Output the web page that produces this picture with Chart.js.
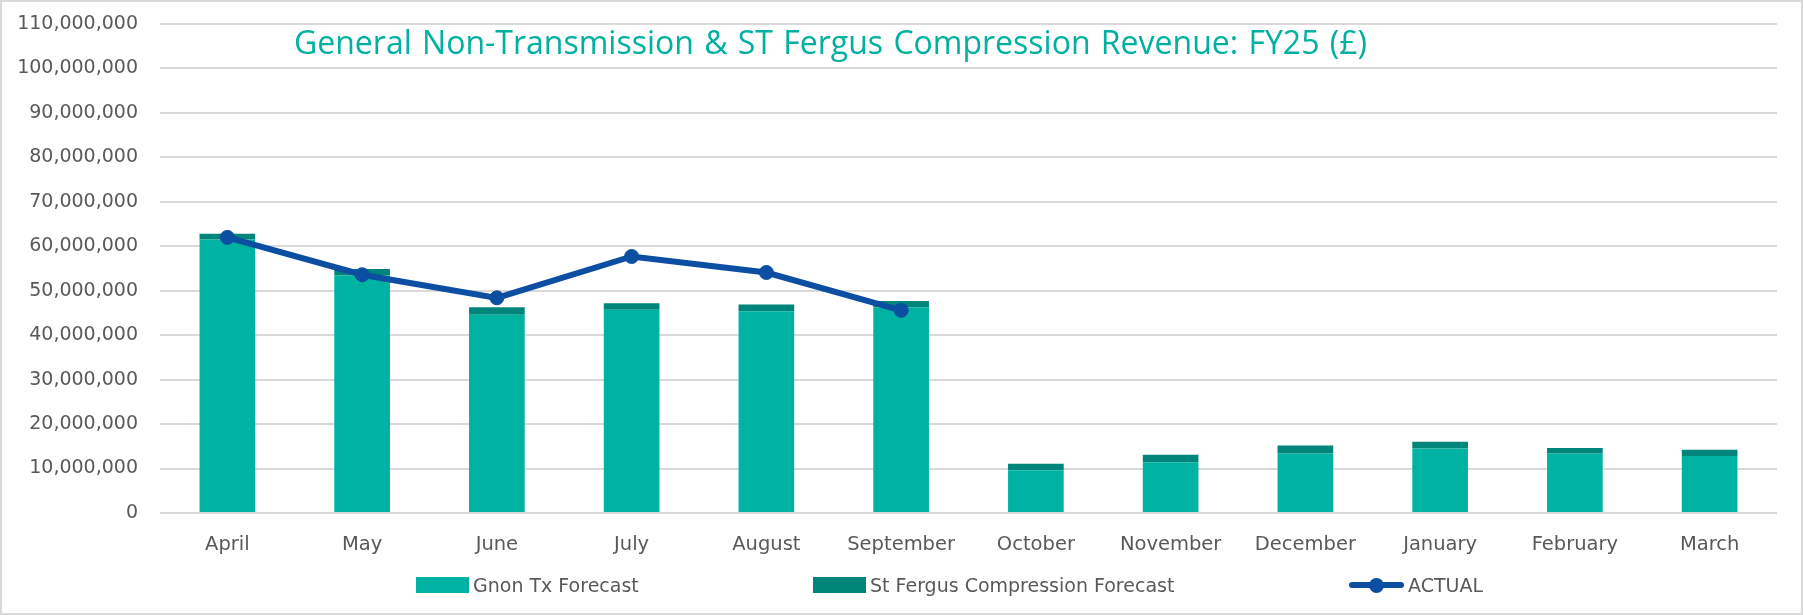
<!DOCTYPE html>
<html>
<head>
<meta charset="utf-8">
<script src="https://cdn.jsdelivr.net/npm/chart.js@4/dist/chart.umd.min.js"></script>
<style>
  html, body { margin: 0; padding: 0; background: #ffffff; }
  #wrap { position: relative; width: 1803px; height: 615px; overflow: hidden; }
  #frame { position: absolute; left: 0; top: 0; width: 1803px; height: 615px; box-sizing: border-box; border: 2px solid #d9d9d9; pointer-events: none; }
  #title { position: absolute; left: 294px; top: 23px; font-family: "Open Sans", sans-serif; font-size: 32px; line-height: 38px; color: #00B0A0; white-space: pre; word-spacing: 2px; }
  .lg { position: absolute; font-family: "DejaVu Sans", sans-serif; font-size: 19px; color: #595959; line-height: 22px; top: 574px; white-space: pre; }
  .sw { position: absolute; }
</style>
</head>
<body>
<div id="wrap">
  <canvas id="c" width="1803" height="615"></canvas>
  <div id="title"></div>
  <div id="legend"></div>
  <div id="frame"></div>
</div>
<script>
// ---- data ----
const chartTitle = "General Non-Transmission & ST Fergus Compression Revenue: FY25 (£)";
const months = ["April","May","June","July","August","September","October","November","December","January","February","March"];
const gnonTxForecast = [61500000, 53400000, 44600000, 45700000, 45400000, 46200000, 9600000, 11400000, 13400000, 14500000, 13400000, 12800000];
const stFergusForecast = [1300000, 1500000, 1700000, 1500000, 1500000, 1500000, 1500000, 1700000, 1800000, 1500000, 1200000, 1400000];
const actual = [62000000, 53600000, 48400000, 57700000, 54100000, 45600000, null, null, null, null, null, null];
const seriesNames = ["Gnon Tx Forecast", "St Fergus Compression Forecast", "ACTUAL"];
const yMin = 0, yMax = 110000000, yStep = 10000000;

// ---- styles ----
const cLight = "#00B2A1";
const cDark = "#00857A";
const cLine = "#0B4EA2";
const tickColor = "#595959";
const gridColor = "#d9d9d9";

document.getElementById("title").textContent = chartTitle;

const ctx = document.getElementById("c").getContext("2d");
new Chart(ctx, {
  data: {
    labels: months,
    datasets: [
      { type: "bar", label: seriesNames[0], data: gnonTxForecast, backgroundColor: cLight, stack: "f", order: 1,
        barPercentage: 0.413, categoryPercentage: 1.0 },
      { type: "bar", label: seriesNames[1], data: stFergusForecast, backgroundColor: cDark, stack: "f", order: 2,
        barPercentage: 0.413, categoryPercentage: 1.0 },
      { type: "line", label: seriesNames[2], data: actual, borderColor: cLine, backgroundColor: cLine,
        borderWidth: 6, pointRadius: 7, pointBackgroundColor: cLine, pointBorderColor: cLine, pointBorderWidth: 1,
        tension: 0, spanGaps: false, stack: "line", order: 0 }
    ]
  },
  options: {
    responsive: false,
    devicePixelRatio: 1,
    animation: false,
    layout: { padding: { left: 0, right: 26, top: 24, bottom: 0 } },
    plugins: { legend: { display: false }, title: { display: false }, tooltip: { enabled: false } },
    scales: {
      x: {
        stacked: true,
        grid: { display: false, drawTicks: false },
        border: { display: false },
        ticks: { color: tickColor, font: { family: "DejaVu Sans", size: 19.5 }, padding: 20, maxRotation: 0, autoSkip: false },
        afterFit: (s) => { s.height = 102; s.paddingLeft = 0; s.paddingRight = 0; }
      },
      y: {
        stacked: true,
        min: yMin, max: yMax,
        grid: { color: gridColor, lineWidth: 2, drawTicks: false },
        border: { display: false },
        ticks: { stepSize: yStep, color: tickColor, font: { family: "DejaVu Sans", size: 19 }, padding: 22,
          callback: (v) => v.toLocaleString("en-US") },
        afterFit: (s) => { s.width = 160; s.paddingTop = 0; s.paddingBottom = 0; }
      }
    }
  }
});

// ---- legend (HTML, real text) ----
const lg = document.getElementById("legend");
function addSwatch(left, top, w, h, color, radius) {
  const d = document.createElement("div");
  d.className = "sw";
  d.style.left = left + "px"; d.style.top = top + "px";
  d.style.width = w + "px"; d.style.height = h + "px";
  d.style.background = color;
  if (radius) d.style.borderRadius = radius;
  lg.appendChild(d);
}
function addText(left, text) {
  const t = document.createElement("div");
  t.className = "lg"; t.style.left = left + "px"; t.textContent = text;
  lg.appendChild(t);
}
addSwatch(416, 577, 53, 16, cLight);
addText(473, seriesNames[0]);
addSwatch(813, 577, 53, 16, cDark);
addText(870, seriesNames[1]);
addSwatch(1349, 582, 55, 6, cLine, "3px");
addSwatch(1369, 578, 15, 15, cLine, "50%");
addText(1408, seriesNames[2]);
</script>
</body>
</html>
